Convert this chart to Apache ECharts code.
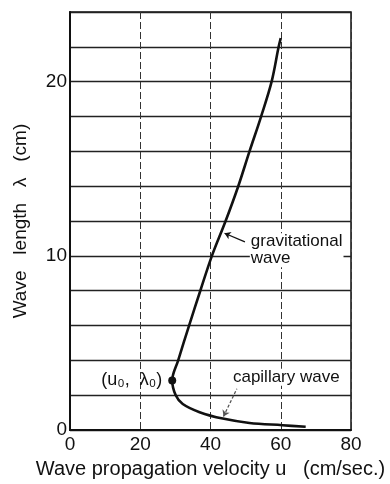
<!DOCTYPE html>
<html>
<head>
<meta charset="utf-8">
<script src="https://cdn.jsdelivr.net/npm/echarts@6/dist/echarts.min.js"></script>
<style>
  html, body { margin: 0; padding: 0; background: #fff; }
  #chart { width: 390px; height: 484px; }
</style>
</head>
<body>
<div id="chart"></div>
<script>
// Dispersion curve of surface waves: propagation velocity u vs. wave length λ
const velocity   = [60.0, 59.4, 57.4, 54.4, 51.1, 47.9, 44.3, 40.4, 37.1, 33.9, 30.8, 29.1, 30.1, 32.1, 36.9, 43.5, 51.1, 60.5, 67.1];
const wavelength = [22.5, 22.0, 20.0, 18.0, 16.0, 14.0, 12.0, 10.0,  8.0,  6.0,  4.0, 2.85,  2.0,  1.5, 1.03, 0.66, 0.41, 0.28, 0.19];

// Minimum-velocity point (u0, λ0)
const minPoint = [29.1, 2.85];
const minLabel = '(u\u2080,  \u03bb\u2080)';

// Axis ranges and labelled ticks
const xRange = [0, 80];
const xStep = 20;
const yRange = [0, 24];
const yStep = 2;
const yLabelled = [0, 10, 20];

// Curve annotations: text anchors and leader lines, in data units
const gravText = { u: 51.2, lam: 10.33, text: 'gravitational\nwave' };
const gravLeader = [[44.0, 11.3], [49.8, 10.8]];
const capText = { u: 46.1, lam: 3.04, text: 'capillary wave' };
const capLeader = [[43.7, 0.78], [47.5, 2.37]];

const FONT = '"Liberation Sans", Arial, Helvetica, sans-serif';
const INK = '#111';

const curve = velocity.map((u, i) => [u, wavelength[i]]);

const chart = echarts.init(document.getElementById('chart'), null, { renderer: 'canvas' });

chart.setOption({
  animation: false,
  backgroundColor: '#fff',
  grid: {
    left: 70, right: 39, top: 12, bottom: 49,
    show: true, borderColor: INK, borderWidth: 1.5, backgroundColor: 'transparent'
  },
  xAxis: {
    type: 'value',
    min: xRange[0], max: xRange[1], interval: xStep,
    name: 'Wave propagation velocity u   (cm/sec.)',
    nameLocation: 'middle',
    nameGap: 28,
    nameTextStyle: { fontFamily: FONT, fontSize: 20, color: INK },
    axisLine: { show: true, onZero: false, lineStyle: { color: INK, width: 2 } },
    axisTick: { show: false },
    axisLabel: { fontFamily: FONT, fontSize: 19, color: INK, margin: 5 },
    splitLine: { show: true, lineStyle: { color: '#333', width: 1, type: [7, 3] } }
  },
  yAxis: {
    type: 'value',
    min: yRange[0], max: yRange[1], interval: yStep,
    name: 'Wave   length   \u03bb   (cm)',
    nameLocation: 'middle',
    nameGap: 40,
    nameTextStyle: { fontFamily: FONT, fontSize: 19, color: INK },
    axisLine: { show: true, onZero: false, lineStyle: { color: INK, width: 2 } },
    axisTick: { show: false },
    axisLabel: {
      fontFamily: FONT, fontSize: 19, color: INK, margin: 3,
      formatter: v => (yLabelled.indexOf(v) >= 0 ? String(v) : '')
    },
    splitLine: { show: true, lineStyle: { color: '#222', width: 1.3 } }
  },
  series: [
    {
      name: 'dispersion',
      type: 'line',
      data: curve,
      smooth: 0.35,
      showSymbol: false,
      lineStyle: { color: INK, width: 2.6 },
      z: 5,
      markLine: {
        silent: true,
        animation: false,
        label: { show: false },
        data: [
          [
            { coord: gravLeader[0], symbol: 'arrow', symbolSize: 6,
              lineStyle: { color: INK, width: 1.3, type: 'solid' } },
            { coord: gravLeader[1], symbol: 'none' }
          ],
          [
            { coord: capLeader[0], symbol: 'arrow', symbolSize: 6,
              lineStyle: { color: '#555', width: 1.3, type: [3, 2] } },
            { coord: capLeader[1], symbol: 'none' }
          ]
        ]
      }
    },
    {
      name: 'minimum',
      type: 'scatter',
      data: [minPoint],
      symbol: 'circle',
      symbolSize: 8,
      itemStyle: { color: INK, opacity: 1 },
      z: 6,
      label: {
        show: true, position: 'left', distance: 6,
        formatter: minLabel, opacity: 1,
        fontFamily: FONT, fontSize: 18, color: INK
      }
    },
    {
      name: 'notes',
      type: 'scatter',
      symbolSize: 0,
      silent: true,
      itemStyle: { opacity: 1 },
      data: [
        { value: [gravText.u, gravText.lam], label: { formatter: gravText.text } },
        { value: [capText.u, capText.lam], label: { formatter: capText.text } }
      ],
      label: {
        show: true, position: [0, 0], align: 'left', verticalAlign: 'middle',
        fontFamily: FONT, fontSize: 17, lineHeight: 17, color: INK, opacity: 1,
        backgroundColor: '#fff', padding: [0, 1]
      },
      z: 7
    }
  ]
});
</script>
</body>
</html>
